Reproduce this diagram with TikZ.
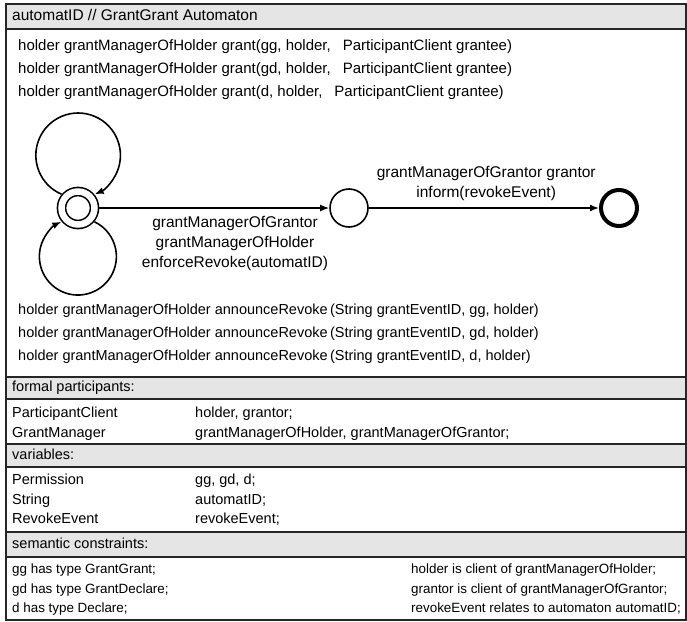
\documentclass[tikz,border=0pt]{standalone}
\usepackage{fontspec}
\setmainfont{Liberation Sans}
\usetikzlibrary{arrows.meta}

\begin{document}
\begin{tikzpicture}[x = 1pt, y = 1pt,
  txt/.style = {anchor = west, inner sep = 0pt, text height = 10.5pt, text depth = 3pt, font = \fontsize{14.5pt}{20pt}\selectfont},
  small/.style = {font = \fontsize{13.4pt}{20pt}\selectfont},
  lbl/.style = {align = center, inner sep = 0pt, font = \fontsize{15.5pt}{20pt}\selectfont},
  rule/.style = {line width = 1.2pt, color = black!85},
  head/.style = {fill = black!10},
  state/.style = {circle, draw, line width = 1.6pt, minimum size = 38pt, inner sep = 0pt},
  edge/.style = {line width = 1.6pt, -{Latex[length = 9pt, width = 7pt]}}]
\useasboundingbox (0,0) rectangle (687,-621);

% table rows
\fill [head] (6,-4) rectangle (686,-29);
\fill [head] (6,-377) rectangle (686,-399);
\fill [head] (6,-444) rectangle (686,-467);
\fill [head] (6,-532) rectangle (686,-557);
\draw [rule] (6,-4) rectangle (686,-620);
\foreach \y in {29, 377, 399, 444, 467, 532, 557}
  \draw [rule] (6,-\y) -- (686,-\y);

\node [txt, font = \fontsize{15.5pt}{20pt}\selectfont] (title) at (12,-17) {automatID // GrantGrant Automaton};
\node [txt, font = \fontsize{15pt}{20pt}\selectfont] (grant1) at (18,-47) {holder grantManagerOfHolder grant(gg, holder,\hspace{12pt}ParticipantClient grantee)};
\node [txt, font = \fontsize{15pt}{20pt}\selectfont] (grant2) at (18,-70) {holder grantManagerOfHolder grant(gd, holder,\hspace{12pt}ParticipantClient grantee)};
\node [txt, font = \fontsize{15pt}{20pt}\selectfont] (grant3) at (18,-93) {holder grantManagerOfHolder grant(d, holder,\hspace{12pt}ParticipantClient grantee)};

% automaton
\node [state, double, double distance = 6.5pt, minimum size = 33pt, outer sep = 4.9pt] (start) at (78,-208) {};
\node [state] (mid) at (349,-208) {};
\node [state, line width = 4pt, minimum size = 36pt] (final) at (619,-208) {};

\draw [edge] (start.140) arc [start angle = 247, end angle = -67, radius = 42.3];
\draw [edge] (start.320) arc [start angle = 64.6, end angle = -244.6, radius = 38.5];
\draw [edge] (start) -- (mid) node [lbl, pos = 0.59, below = 7pt] (enforce) {grantManagerOfGrantor\\ grantManagerOfHolder\\ enforceRevoke(automatID)};
\draw [edge] (mid) -- (final) node [lbl, pos = 0.51, above = 6pt] (inform) {grantManagerOfGrantor grantor\\ inform(revokeEvent)};

\node [txt] (announce1) at (18,-311) {holder grantManagerOfHolder announceRevoke\,(String grantEventID, gg, holder)};
\node [txt] (announce2) at (18,-334) {holder grantManagerOfHolder announceRevoke\,(String grantEventID, gd, holder)};
\node [txt] (announce3) at (18,-357) {holder grantManagerOfHolder announceRevoke\,(String grantEventID, d, holder)};

% formal participants
\node [txt] (formal) at (12,-388) {formal participants:};
\node [txt] (client) at (12,-414) {ParticipantClient};
\node [txt] (clientvars) at (195,-414) {holder, grantor;};
\node [txt] (manager) at (12,-434) {GrantManager};
\node [txt] (managervars) at (195,-434) {grantManagerOfHolder, grantManagerOfGrantor;};

% variables
\node [txt] (variables) at (12,-456) {variables:};
\node [txt] (permission) at (12,-481) {Permission};
\node [txt] (permissionvars) at (195,-481) {gg, gd, d;};
\node [txt] (string) at (12,-501) {String};
\node [txt] (stringvars) at (195,-501) {automatID;};
\node [txt] (revoke) at (12,-520) {RevokeEvent};
\node [txt] (revokevars) at (195,-520) {revokeEvent;};

% semantic constraints
\node [txt] (semantic) at (12,-545) {semantic constraints:};
\node [txt, small] (typegg) at (12,-570) {gg has type GrantGrant;};
\node [txt, small] (typegd) at (12,-590) {gd has type GrantDeclare;};
\node [txt, small] (typed) at (12,-609) {d has type Declare;};
\node [txt, small] (clientholder) at (411,-570) {holder is client of grantManagerOfHolder;};
\node [txt, small] (clientgrantor) at (411,-590) {grantor is client of grantManagerOfGrantor;};
\node [txt, small] (relates) at (411,-609) {revokeEvent relates to automaton automatID;};
\end{tikzpicture}
\end{document}
